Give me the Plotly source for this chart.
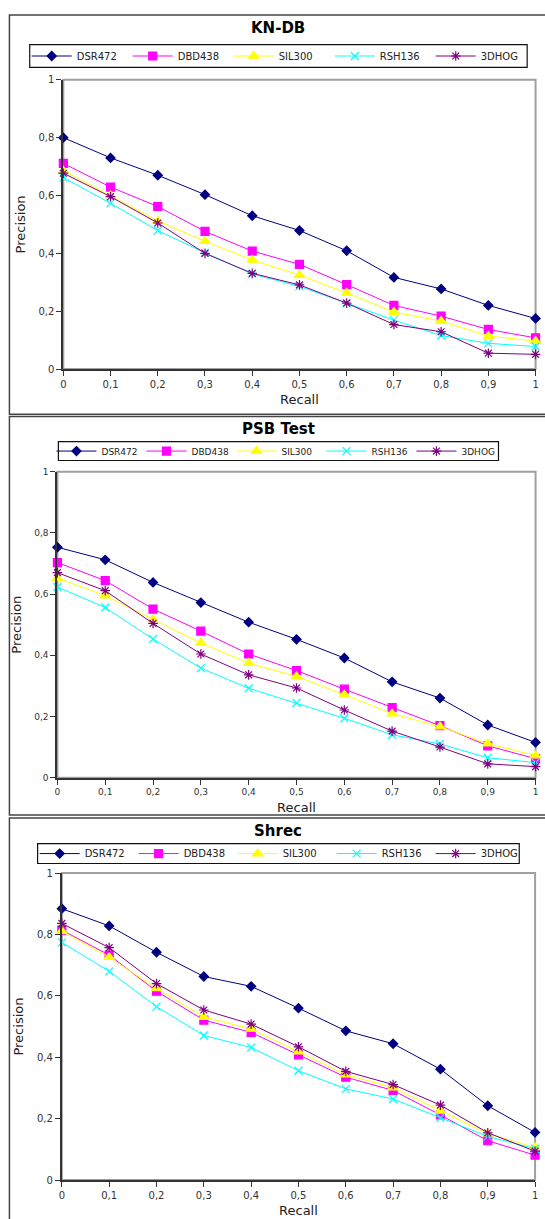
import plotly.graph_objects as go

recall = [0, 0.1, 0.2, 0.3, 0.4, 0.5, 0.6, 0.7, 0.8, 0.9, 1.0]
series_names = ["DSR472", "DBD438", "SIL300", "RSH136", "3DHOG"]
panel_titles = ["KN-DB", "PSB Test", "Shrec"]
y_ticks = [0, 0.2, 0.4, 0.6, 0.8, 1]
x_ticks = [0, 0.1, 0.2, 0.3, 0.4, 0.5, 0.6, 0.7, 0.8, 0.9, 1]

# KN-DB
kn_dsr472 = [0.800, 0.730, 0.670, 0.603, 0.530, 0.479, 0.409, 0.317, 0.277, 0.220, 0.175]
kn_dbd438 = [0.711, 0.629, 0.562, 0.476, 0.408, 0.362, 0.292, 0.220, 0.183, 0.137, 0.108]
kn_sil300 = [0.685, 0.600, 0.512, 0.442, 0.377, 0.325, 0.263, 0.197, 0.166, 0.114, 0.097]
kn_rsh136 = [0.662, 0.573, 0.479, 0.402, 0.329, 0.286, 0.228, 0.169, 0.116, 0.089, 0.078]
kn_3dhog = [0.677, 0.596, 0.505, 0.400, 0.331, 0.291, 0.228, 0.154, 0.129, 0.055, 0.051]

# PSB Test
psb_dsr472 = [0.753, 0.712, 0.638, 0.572, 0.508, 0.452, 0.391, 0.313, 0.260, 0.172, 0.115]
psb_dbd438 = [0.703, 0.644, 0.551, 0.479, 0.404, 0.350, 0.289, 0.229, 0.170, 0.104, 0.062]
psb_sil300 = [0.652, 0.595, 0.517, 0.440, 0.374, 0.331, 0.271, 0.209, 0.167, 0.111, 0.072]
psb_rsh136 = [0.623, 0.556, 0.453, 0.358, 0.292, 0.244, 0.194, 0.140, 0.110, 0.065, 0.049]
psb_3dhog = [0.670, 0.611, 0.504, 0.404, 0.336, 0.293, 0.221, 0.152, 0.100, 0.045, 0.036]

# Shrec
sh_dsr472 = [0.884, 0.828, 0.742, 0.663, 0.631, 0.560, 0.486, 0.444, 0.361, 0.242, 0.155]
sh_dbd438 = [0.814, 0.733, 0.615, 0.521, 0.481, 0.408, 0.335, 0.292, 0.212, 0.128, 0.081]
sh_sil300 = [0.811, 0.726, 0.624, 0.531, 0.492, 0.418, 0.343, 0.301, 0.225, 0.151, 0.106]
sh_rsh136 = [0.774, 0.680, 0.565, 0.471, 0.432, 0.356, 0.297, 0.264, 0.203, 0.142, 0.102]
sh_3dhog = [0.836, 0.757, 0.640, 0.554, 0.508, 0.434, 0.354, 0.311, 0.244, 0.154, 0.094]

panels = [
    [kn_dsr472, kn_dbd438, kn_sil300, kn_rsh136, kn_3dhog],
    [psb_dsr472, psb_dbd438, psb_sil300, psb_rsh136, psb_3dhog],
    [sh_dsr472, sh_dbd438, sh_sil300, sh_rsh136, sh_3dhog],
]

colors = ["#000080", "#FF00FF", "#FFFF00", "#00FFFF", "#800080"]
symbols = ["diamond", "square", "triangle-up", "x-thin-open", "asterisk-open"]
msizes = [7, 8, 9, 8, 8]

W, H = 545, 1219
def px(x):
    return x / W
def py(y):
    return 1 - y / H

# layout geometry in pixels (from the reference)
plot_boxes = [  # x0, x1, ytop, ybottom
    (61, 538.5, 74.5, 366.7),
    (55, 538.5, 470.3, 779.3),
    (59.5, 538, 875.7, 1185.7),
]
frames = [(6.5, 9, 412.3), (6.5, 414.5, 817), (6.5, 820, 1240)]
title_y = [22, 427, 833]
title_x = [278, 279, 278]
legend_boxes = [(27, 530, 39, 62), (56, 501, 440, 459), (35, 522, 846, 866)]
legend_shift = [-3, -7, -3]
legend_entry = [46, 35, 44]
legend_font = [10, 9, 10]
tick_font = [10, 9, 10]

fig = go.Figure()
for p in range(3):
    ax = "" if p == 0 else str(p + 1)
    for i, name in enumerate(series_names):
        fig.add_trace(go.Scatter(
            x=recall, y=panels[p][i], name=name, mode="lines+markers",
            line=dict(color=colors[i], width=1),
            marker=dict(symbol=symbols[i], size=msizes[i], color=colors[i],
                        line=dict(color=colors[i], width=1.2)),
            xaxis="x" + ax, yaxis="y" + ax, cliponaxis=False,
            legend="legend" + ax, showlegend=True,
        ))

layout = dict(
    width=W, height=H, margin=dict(l=0, r=0, t=0, b=0),
    paper_bgcolor="white", plot_bgcolor="rgba(0,0,0,0)",
    separators=", ",
    font=dict(family="DejaVu Sans", color="#222222"),
    shapes=[], annotations=[],
)
for p in range(3):
    ax = "" if p == 0 else str(p + 1)
    x0, x1, yt, yb = plot_boxes[p]
    layout["xaxis" + ax] = dict(
        domain=[px(x0), px(x1)], range=[0, 1], anchor="y" + ax,
        tickvals=x_ticks, showgrid=False, zeroline=False,
        showline=True, linecolor="#333333", linewidth=2,
        ticks="outside", ticklen=5, tickcolor="#333333", tickwidth=1,
        tickfont=dict(size=tick_font[p], color="#333333"),
        title=dict(text="Recall", font=dict(size=13, color="#222222"), standoff=6),
        fixedrange=True,
    )
    layout["yaxis" + ax] = dict(
        domain=[py(yb), py(yt)], range=[0, 1], anchor="x" + ax,
        tickvals=y_ticks, showgrid=False, zeroline=False,
        showline=True, linecolor="#333333", linewidth=2,
        ticks="outside", ticklen=5, tickcolor="#333333", tickwidth=1,
        tickfont=dict(size=tick_font[p], color="#333333"),
        title=dict(text="Precision", font=dict(size=13, color="#222222"), standoff=10),
        fixedrange=True,
    )
    lx0, lx1, ly0, ly1 = legend_boxes[p]
    layout["legend" + ax] = dict(
        orientation="h", x=px(lx0 + legend_shift[p]), y=py((ly0 + ly1) / 2),
        xanchor="left", yanchor="middle",
        borderwidth=0, bgcolor="rgba(0,0,0,0)",
        font=dict(size=legend_font[p], color="#222222"),
        itemwidth=40, entrywidth=legend_entry[p], entrywidthmode="pixels",
        tracegroupgap=0,
    )
    layout["shapes"].append(dict(
        type="rect", xref="paper", yref="paper",
        x0=px(lx0), x1=px(lx1), y0=py(ly1), y1=py(ly0),
        line=dict(color="#111111", width=1.2), fillcolor="white", layer="below",
    ))
    # plot-area light border (top/right)
    layout["shapes"].append(dict(
        type="rect", xref="paper", yref="paper",
        x0=px(x0), x1=px(x1), y0=py(yb), y1=py(yt),
        line=dict(color="#a0a0a0", width=2), layer="below",
    ))
    # panel frame
    fx, fy0, fy1 = frames[p]
    layout["shapes"].append(dict(
        type="rect", xref="paper", yref="paper",
        x0=px(fx), x1=1.05, y0=py(fy1), y1=py(fy0),
        line=dict(color="#444444", width=1.5), layer="below",
    ))
    layout["annotations"].append(dict(
        text="<b>" + panel_titles[p] + "</b>", xref="paper", yref="paper",
        x=px(title_x[p]), y=py(title_y[p]), xanchor="center", yanchor="middle",
        showarrow=False, font=dict(size=15, color="#000000"),
    ))

fig.update_layout(**layout)
fig.write_html(
    "out.html",
    config={"displayModeBar": False},
    post_script="document.body.style.margin='0';document.body.style.overflow='hidden';",
)
